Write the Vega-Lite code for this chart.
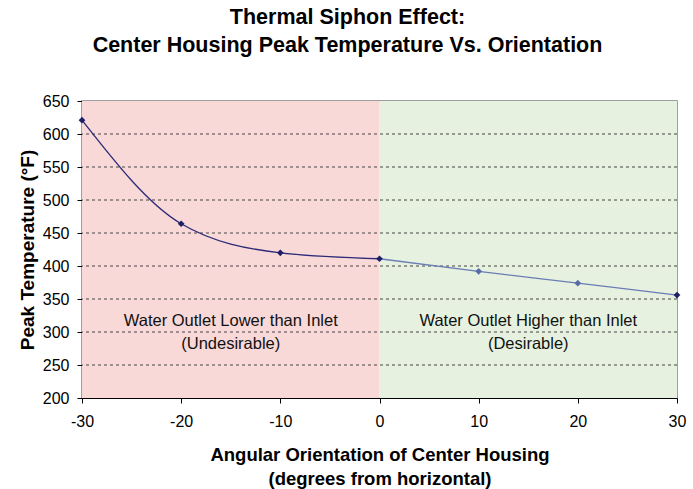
{
  "$schema": "https://vega.github.io/schema/vega-lite/v6.json",
  "width": 595,
  "height": 297,
  "autosize": "none",
  "padding": {"left": 82, "top": 101, "right": 16, "bottom": 91},
  "background": "white",
  "config": {
    "font": "Liberation Sans",
    "view": {"stroke": "#808080", "strokeWidth": 1.5},
    "axis": {"labelOverlap": false, "labelFlush": false, "labelBound": false}
  },
  "title": {
    "text": ["Thermal Siphon Effect:", "Center Housing Peak Temperature Vs. Orientation"],
    "font": "Liberation Sans",
    "fontSize": 21.5,
    "fontWeight": "bold",
    "lineHeight": 28,
    "color": "#000",
    "anchor": "middle",
    "frame": "group",
    "dx": -32,
    "offset": 37
  },
  "datasets": {
    "pts": [
      {"x": -30, "y": 621},
      {"x": -20, "y": 464},
      {"x": -10, "y": 420},
      {"x": 0, "y": 411},
      {"x": 10, "y": 392},
      {"x": 20, "y": 374},
      {"x": 30, "y": 356}
    ],
    "bands": [
      {"x1": -30, "x2": 0, "y1": 200, "y2": 650, "zone": "under"},
      {"x1": 0, "x2": 30, "y1": 200, "y2": 650, "zone": "des"}
    ],
    "grid": [
      {"y": 250}, {"y": 300}, {"y": 350}, {"y": 400}, {"y": 450},
      {"y": 500}, {"y": 550}, {"y": 600}
    ],
    "notes": [
      {"x": -15, "y": 317, "label": "Water Outlet Lower than Inlet"},
      {"x": -15, "y": 282, "label": "(Undesirable)"},
      {"x": 15, "y": 317, "label": "Water Outlet Higher than Inlet"},
      {"x": 15, "y": 282, "label": "(Desirable)"}
    ]
  },
  "encoding": {
    "x": {
      "type": "quantitative",
      "scale": {"domain": [-30, 30], "nice": false, "zero": false},
      "axis": {
        "values": [-30, -20, -10, 0, 10, 20, 30],
        "labelExpr": "'' + datum.value",
        "labelOverlap": false,
        "grid": false,
        "domainColor": "#000",
        "domainWidth": 1,
        "tickColor": "#000",
        "tickSize": 5,
        "labelFontSize": 16,
        "labelColor": "#000",
        "labelPadding": 10,
        "title": ["Angular Orientation of Center Housing", "(degrees from horizontal)"],
        "titleFontSize": 18.5,
        "titleFontWeight": "bold",
        "titleColor": "#000",
        "titleLineHeight": 24,
        "titlePadding": 16
      }
    },
    "y": {
      "type": "quantitative",
      "scale": {"domain": [200, 650], "nice": false, "zero": false},
      "axis": {
        "values": [200, 250, 300, 350, 400, 450, 500, 550, 600, 650],
        "labelExpr": "'' + datum.value",
        "labelOverlap": false,
        "grid": false,
        "domainColor": "#000",
        "domainWidth": 1,
        "tickColor": "#000",
        "tickSize": 5,
        "labelFontSize": 16,
        "labelColor": "#000",
        "labelPadding": 8,
        "title": "Peak Temperature (°F)",
        "titleFontSize": 19,
        "titleFontWeight": "bold",
        "titleColor": "#000",
        "titlePadding": 5
      }
    }
  },
  "layer": [
    {
      "data": {"name": "bands"},
      "mark": {"type": "rect"},
      "encoding": {
        "x": {"field": "x1"},
        "x2": {"field": "x2"},
        "y": {"field": "y1"},
        "y2": {"field": "y2"},
        "color": {
          "field": "zone",
          "type": "nominal",
          "scale": {"domain": ["under", "des"], "range": ["#f9d8d8", "#e7f1df"]},
          "legend": null
        }
      }
    },
    {
      "data": {"name": "grid"},
      "mark": {"type": "rule", "strokeDash": [3, 3], "color": "#444", "strokeWidth": 1},
      "encoding": {
        "y": {"field": "y"}
      }
    },
    {
      "data": {"name": "notes"},
      "mark": {"type": "text", "fontSize": 16.5, "color": "#111", "font": "Liberation Sans"},
      "encoding": {
        "x": {"field": "x"},
        "y": {"field": "y"},
        "text": {"field": "label"}
      }
    },
    {
      "data": {"name": "pts"},
      "transform": [{"filter": "datum.x <= 0"}],
      "mark": {"type": "line", "interpolate": "monotone", "color": "#2b2b78", "strokeWidth": 1.3},
      "encoding": {
        "x": {"field": "x"},
        "y": {"field": "y"}
      }
    },
    {
      "data": {"name": "pts"},
      "transform": [{"filter": "datum.x >= 0"}],
      "mark": {"type": "line", "interpolate": "monotone", "color": "#6a7db5", "strokeWidth": 1.3},
      "encoding": {
        "x": {"field": "x"},
        "y": {"field": "y"}
      }
    },
    {
      "data": {"name": "pts"},
      "mark": {"type": "point", "shape": "diamond", "filled": true, "size": 45, "opacity": 1},
      "encoding": {
        "x": {"field": "x"},
        "y": {"field": "y"},
        "color": {
          "condition": {"test": "datum.x > 0 && datum.x < 30", "value": "#5a6ca6"},
          "value": "#1f1f66"
        }
      }
    }
  ]
}
